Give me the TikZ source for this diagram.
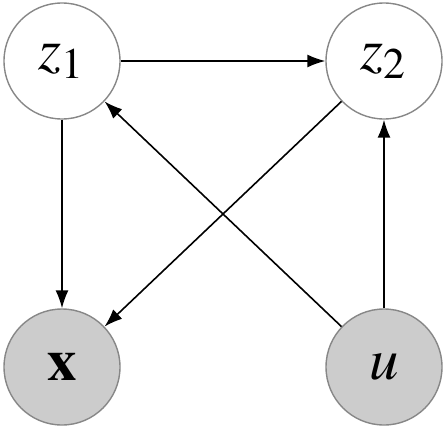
\documentclass[tikz,border=0pt]{standalone}
\usepackage{mathptmx}
\usepackage{graphicx}
\usetikzlibrary{arrows.meta}
\newcommand{\bigtxt}[1]{\scalebox{2.95}{$#1$}}
\begin{document}
\begin{tikzpicture}[x=1pt,y=-1pt,
  var/.style={circle,draw=black!47,line width=1.4pt,minimum size=116pt,inner sep=0pt,font=\fontsize{20}{24}\selectfont},
  obs/.style={var,fill=black!20},
  edge/.style={-{Latex[length=18pt,width=13pt]},line width=1.6pt}]
\useasboundingbox (0,0) rectangle (446,428);
\node[var] (z1) at (62,61) {\bigtxt{z_1}};
\node[var] (z2) at (384,61) {\bigtxt{z_2}};
\node[obs] (x) at (62,367) {\bigtxt{\mathbf{x}}};
\node[obs] (u) at (384,367) {\bigtxt{u}};
\draw[edge] (z1) -- (z2);
\draw[edge] (z1) -- (x);
\draw[edge] (z2) -- (x);
\draw[edge] (u) -- (z1);
\draw[edge] (u) -- (z2);
\end{tikzpicture}
\end{document}
